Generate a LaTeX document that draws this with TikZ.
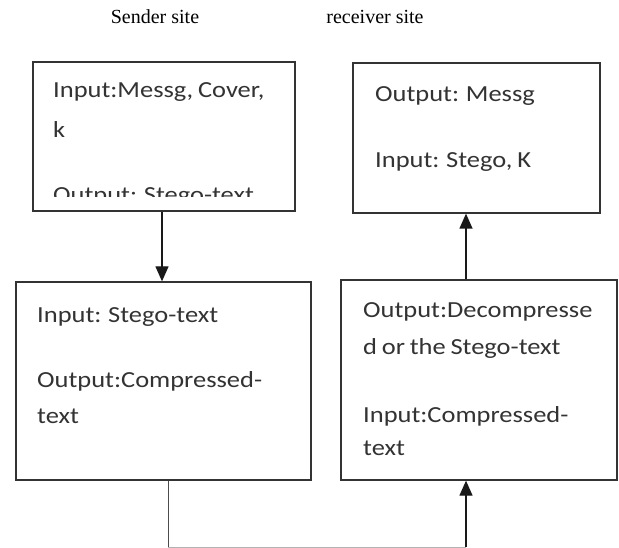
\documentclass[tikz,border=0pt]{standalone}
\usepackage{fontspec}
\setmainfont{Liberation Serif}
\newfontfamily\boxfont[FakeStretch=1.15,WordSpace=0.8]{Carlito}
\usetikzlibrary{arrows.meta}
\begin{document}
\begin{tikzpicture}[x=1pt,y=-1pt,
  box/.style={draw=black!80, line width=1.3pt, rectangle, inner sep=0pt},
  txt/.style={anchor=base west, inner sep=0pt, font=\boxfont\fontsize{23}{27}\selectfont, text=black!80},
  title/.style={anchor=base, inner sep=0pt, font=\fontsize{20}{24}\selectfont},
  conn/.style={line width=1.3pt, draw=black!90, -{Triangle[length=15pt,width=13pt]}},
  thinline/.style={line width=0.9pt, draw=black!70}]
\useasboundingbox[fill=white] (0,0) rectangle (619,548);

\node[title] (t1) at (155,24) {Sender site};
\node[title] (t2) at (375,24) {receiver site};

\node[box, minimum width=262pt, minimum height=149pt] (b1) at (164,136.5) {};
\node[box, minimum width=247pt, minimum height=150pt] (b3) at (476.5,138) {};
\node[box, minimum width=295pt, minimum height=198pt] (b2) at (163.5,381) {};
\node[box, minimum width=276pt, minimum height=200pt] (b4) at (479,380) {};

% box 1 text
\node[txt] (b1a) at (53,98) {Input:Messg, Cover,};
\node[txt] (b1b) at (53,138) {k};
\begin{scope}
  \clip (33,62) rectangle (295,197);
  \node[txt] (b1c) at (53,203) {Output: Stego-text};
\end{scope}

% box 3 text
\node[txt] (b3a) at (375,102) {Output: Messg};
\node[txt] (b3b) at (375,168) {Input: Stego, K};

% box 2 text
\node[txt] (b2a) at (37,323) {Input: Stego-text};
\node[txt] (b2b) at (37,388) {Output:Compressed-};
\node[txt] (b2c) at (37,423) {text};

% box 4 text
\node[txt] (b4a) at (363,318) {Output:Decompresse};
\node[txt] (b4b) at (363,355) {d or the Stego-text};
\node[txt] (b4c) at (363,422) {Input:Compressed-};
\node[txt] (b4d) at (363,455) {text};

% connectors
\coordinate (l1) at (162,0);
\coordinate (r1) at (466,0);
\coordinate (bl) at (168,547);
\coordinate (br) at (466,547);
\draw[conn] (b1.south -| l1) -- (b2.north -| l1);
\draw[conn] (b4.north -| r1) -- (b3.south -| r1);
\draw[thinline] (b2.south -| bl) -- (bl);
\draw[line width=0.9pt, draw=black!30] (bl) -- (br);
\draw[conn] (br) -- (b4.south -| r1);
\end{tikzpicture}
\end{document}
